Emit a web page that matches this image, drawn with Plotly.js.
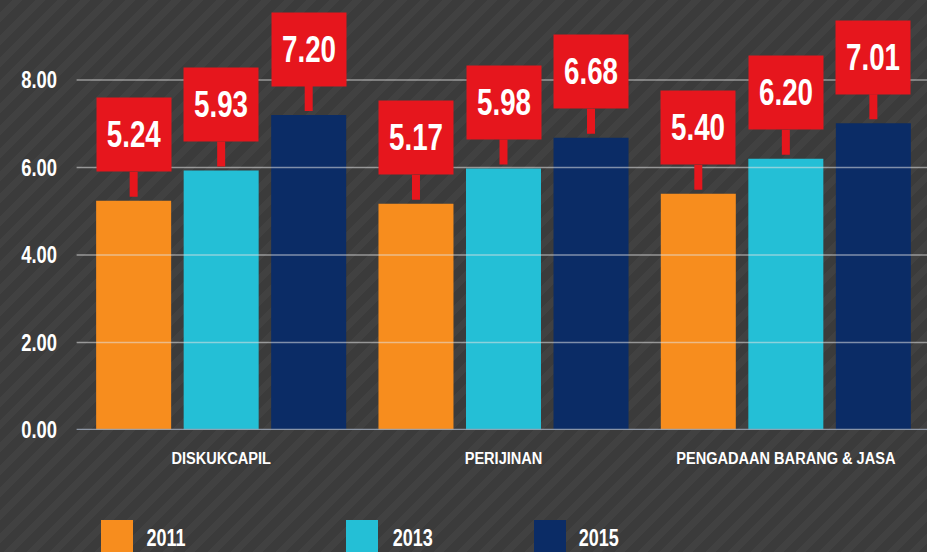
<!DOCTYPE html>
<html>
<head>
<meta charset="utf-8">
<script src="https://cdn.plot.ly/plotly-3.0.1.min.js"></script>
<style>
  html, body { margin: 0; padding: 0; background: #3b3b3b; }
  #chart {
    width: 927px; height: 552px;
    background-color: #3b3b3b;
    background-image: repeating-linear-gradient(135deg,
      rgba(255,255,255,0.00) 0px, rgba(255,255,255,0.00) 9px,
      rgba(255,255,255,0.03) 9px, rgba(255,255,255,0.03) 16px);
  }
</style>
</head>
<body>
<div id="chart"></div>
<script>
// ---- data ----
const categories = ['DISKUKCAPIL', 'PERIJINAN', 'PENGADAAN BARANG & JASA'];
const seriesNames = ['2011', '2013', '2015'];
const values2011 = [5.24, 5.17, 5.40];
const values2013 = [5.93, 5.98, 6.20];
const values2015 = [7.20, 6.68, 7.01];
const yTickVals = [0, 2, 4, 6, 8];
const yTickText = ['0.00', '2.00', '4.00', '6.00', '8.00'];

// ---- styling ----
const seriesValues = [values2011, values2013, values2015];
const colors = ['#f78d1e', '#24bfd6', '#0b2c66'];
const calloutRed = '#e6161d';
const fontFam = '"Liberation Sans Narrow", "Liberation Sans", "DejaVu Sans", sans-serif';

const W = 927, H = 552;
const M = {l: 80, r: 0, t: 10, b: 122};
const plotW = W - M.l - M.r, plotH = H - M.t - M.b;
const px2x = px => (px - M.l) / plotW;
const py2y = py => (H - M.b - py) / plotH;

const bargap = 0.07;
const slotPx = (plotW / categories.length) * (1 - bargap) / seriesNames.length;

const traces = seriesValues.map((vals, i) => ({
  type: 'bar',
  name: seriesNames[i],
  x: categories,
  y: vals,
  marker: {color: colors[i], line: {width: 0}},
  showlegend: false,
  hoverinfo: 'skip'
}));

const shapes = [];
const annotations = [];

// grid lines above bars, semi-transparent
yTickVals.forEach(v => {
  shapes.push({
    type: 'line', xref: 'paper', yref: 'y',
    x0: -0.004, x1: 1, y0: v, y1: v,
    line: {color: v === 0 ? 'rgba(150,160,175,0.9)' : 'rgba(225,225,225,0.55)', width: v === 0 ? 2.5 : 1.6},
    layer: 'above'
  });
});

// callouts
seriesValues.forEach((vals, i) => {
  vals.forEach((v, j) => {
    annotations.push({
      x: categories[j], y: v, xref: 'x', yref: 'y',
      xshift: (i - 1) * slotPx,
      text: v.toFixed(2),
      showarrow: true, arrowhead: 0, arrowwidth: 8, arrowcolor: calloutRed,
      ax: 0, ay: -66, standoff: 4,
      bgcolor: calloutRed, borderpad: 0, width: 74, height: 73,
      align: 'center', valign: 'middle',
      font: {family: fontFam, size: 37, color: '#ffffff', weight: 'bold'}
    });
  });
});

// legend (custom, large squares)
const legendSquareLeft = [101, 346, 534];
const legendTextCenter = [166, 412, 598];
seriesNames.forEach((n, i) => {
  shapes.push({
    type: 'rect', xref: 'paper', yref: 'paper',
    x0: px2x(legendSquareLeft[i]), x1: px2x(legendSquareLeft[i] + 32),
    y0: py2y(520), y1: py2y(552),
    fillcolor: colors[i], line: {width: 0}
  });
  annotations.push({
    xref: 'paper', yref: 'paper',
    x: px2x(legendTextCenter[i]), y: py2y(537),
    xanchor: 'center', yanchor: 'middle',
    text: n, showarrow: false,
    font: {family: fontFam, size: 24, color: '#ffffff', weight: 'bold'}
  });
});

const layout = {
  width: W, height: H,
  margin: M,
  paper_bgcolor: 'rgba(0,0,0,0)',
  plot_bgcolor: 'rgba(0,0,0,0)',
  barmode: 'group',
  bargap: bargap,
  bargroupgap: 0.143,
  showlegend: false,
  xaxis: {
    type: 'category',
    range: [-0.5, 2.5],
    showgrid: false, zeroline: false, showline: false,
    ticks: '',
    ticklabelstandoff: 17,
    tickfont: {family: fontFam, size: 16, color: '#ffffff', weight: 'bold'}
  },
  yaxis: {
    range: [0, plotH / 43.75],
    tickvals: yTickVals,
    ticktext: yTickText,
    showgrid: false, zeroline: false, showline: false,
    ticks: '',
    ticklabelstandoff: 22,
    tickfont: {family: fontFam, size: 23, color: '#ffffff', weight: 'bold'}
  },
  shapes: shapes,
  annotations: annotations,
  font: {family: fontFam, color: '#ffffff'}
};

// condense glyphs horizontally (no narrow font installed)
function condense(selector, factor) {
  document.querySelectorAll(selector).forEach(el => {
    const w = el.getComputedTextLength();
    if (w > 0) {
      el.setAttribute('textLength', (w * factor).toFixed(2));
      el.setAttribute('lengthAdjust', 'spacingAndGlyphs');
    }
  });
}

Plotly.newPlot('chart', traces, layout, {displayModeBar: false, staticPlot: true}).then(() => {
  condense('#chart .xtick text', 0.91);
  condense('#chart .ytick text', 0.8);
  condense('#chart .annotation-text', 0.75);
});
</script>
</body>
</html>
